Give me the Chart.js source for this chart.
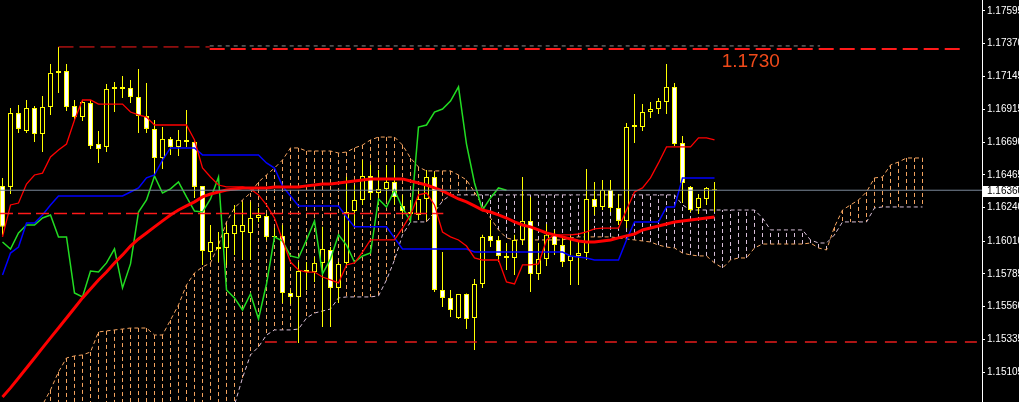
<!DOCTYPE html>
<html>
<head>
<meta charset="utf-8">
<script src="https://cdn.jsdelivr.net/npm/chart.js@4.4.1/dist/chart.umd.min.js"></script>
<style>
  html, body { margin: 0; padding: 0; background: #000; }
  canvas { display: block; background: #000; }
</style>
</head>
<body>
<canvas id="myChart" width="1019" height="402"></canvas>
<script>
// EURUSD candles, one per bar (index 0 = leftmost bar)
var opens = [
  1.16390, 1.16383, 1.16891, 1.16768, 1.16926, 1.16747, 1.16933, 1.17167, 1.17180, 1.16940,
  1.16864, 1.16960, 1.16678, 1.16658, 1.17057, 1.17071, 1.17064, 1.17002, 1.16871, 1.16782,
  1.16582, 1.16713, 1.16658, 1.16706, 1.16692, 1.16390, 1.15935, 1.15969, 1.15963, 1.16059,
  1.16073, 1.16066, 1.16169, 1.16183, 1.16046, 1.16046, 1.15653, 1.15626, 1.15811, 1.15797,
  1.15860, 1.15949, 1.15688, 1.15860, 1.16217, 1.16293, 1.16458, 1.16341, 1.16369, 1.16417,
  1.16252, 1.16197, 1.16190, 1.16300, 1.16451, 1.15674, 1.15619, 1.15481, 1.15646, 1.15481,
  1.15715, 1.16046, 1.16018, 1.15908, 1.15894, 1.16018, 1.16149, 1.15784, 1.15887, 1.16053,
  1.15983, 1.15873, 1.15908, 1.15928, 1.16300, 1.16245, 1.16362, 1.16238, 1.16149, 1.16795,
  1.16795, 1.16898, 1.16919, 1.16967, 1.17071, 1.16685, 1.16383, 1.16238, 1.16300, 1.16366
];
var highs = [
  1.16445, 1.16926, 1.16947, 1.16981, 1.16940, 1.17008, 1.17229, 1.17346, 1.17229, 1.16981,
  1.16981, 1.16981, 1.16768, 1.17091, 1.17105, 1.17146, 1.17119, 1.17194, 1.17098, 1.16843,
  1.16795, 1.16726, 1.16775, 1.16912, 1.16699, 1.16390, 1.16121, 1.16073, 1.16121, 1.16259,
  1.16280, 1.16280, 1.16238, 1.16197, 1.16100, 1.16121, 1.15674, 1.15866, 1.15866, 1.15901,
  1.16108, 1.15969, 1.15866, 1.16451, 1.16396, 1.16568, 1.16534, 1.16499, 1.16534, 1.16534,
  1.16328, 1.16293, 1.16362, 1.16499, 1.16485, 1.15935, 1.15674, 1.15646, 1.15650, 1.15749,
  1.16053, 1.16155, 1.16046, 1.15997, 1.16053, 1.16451, 1.16314, 1.15997, 1.16128, 1.16087,
  1.16032, 1.16046, 1.16004, 1.16506, 1.16417, 1.16431, 1.16431, 1.16334, 1.16823, 1.17022,
  1.16953, 1.16967, 1.16995, 1.17229, 1.17098, 1.16733, 1.16390, 1.16334, 1.16383, 1.16417
];
var lows = [
  1.16053, 1.16334, 1.16754, 1.16754, 1.16692, 1.16623, 1.16878, 1.17029, 1.16905, 1.16836,
  1.16836, 1.16644, 1.16548, 1.16623, 1.16898, 1.16995, 1.16960, 1.16754, 1.16754, 1.16451,
  1.16506, 1.16603, 1.16596, 1.16658, 1.16307, 1.15846, 1.15880, 1.15866, 1.15846, 1.15915,
  1.15880, 1.15880, 1.16142, 1.16018, 1.16018, 1.15584, 1.15577, 1.15309, 1.15674, 1.15729,
  1.15419, 1.15419, 1.15584, 1.15846, 1.16121, 1.16259, 1.16293, 1.16259, 1.16293, 1.16259,
  1.16190, 1.16169, 1.16155, 1.16155, 1.15660, 1.15557, 1.15488, 1.15474, 1.15405, 1.15261,
  1.15688, 1.15969, 1.15866, 1.15811, 1.15777, 1.15983, 1.15660, 1.15743, 1.15839, 1.15915,
  1.15832, 1.15708, 1.15708, 1.15880, 1.16190, 1.16224, 1.16210, 1.16121, 1.16100, 1.16685,
  1.16768, 1.16857, 1.16885, 1.16885, 1.16665, 1.16272, 1.16210, 1.16197, 1.16259, 1.16210
];
var closes = [
  1.16108, 1.16891, 1.16782, 1.16926, 1.16747, 1.16933, 1.17167, 1.17180, 1.16933, 1.16864,
  1.16967, 1.16665, 1.16644, 1.17057, 1.17071, 1.17057, 1.17002, 1.16871, 1.16782, 1.16582,
  1.16713, 1.16658, 1.16706, 1.16692, 1.16383, 1.15942, 1.16004, 1.15956, 1.16066, 1.16121,
  1.16121, 1.16169, 1.16190, 1.16039, 1.16039, 1.15653, 1.15626, 1.15804, 1.15797, 1.15860,
  1.15956, 1.15688, 1.15853, 1.16210, 1.16293, 1.16458, 1.16341, 1.16369, 1.16417, 1.16314,
  1.16217, 1.16210, 1.16300, 1.16451, 1.15674, 1.15619, 1.15536, 1.15646, 1.15474, 1.15715,
  1.16039, 1.16011, 1.15908, 1.15894, 1.16018, 1.16149, 1.15784, 1.15887, 1.16053, 1.15983,
  1.15866, 1.15908, 1.15928, 1.16300, 1.16245, 1.16362, 1.16238, 1.16149, 1.16795, 1.16809,
  1.16898, 1.16919, 1.16974, 1.17071, 1.16678, 1.16410, 1.16224, 1.16307, 1.16376, 1.16360
];

// moving average (thick red)
var maLine = [
  1.14938, 1.15000, 1.15068, 1.15137, 1.15206, 1.15275, 1.15344, 1.15412, 1.15481, 1.15550,
  1.15619, 1.15681, 1.15743, 1.15797, 1.15860, 1.15915, 1.15976, 1.16025, 1.16066, 1.16108,
  1.16149, 1.16190, 1.16224, 1.16252, 1.16280, 1.16314, 1.16334, 1.16348, 1.16362, 1.16369,
  1.16376, 1.16376, 1.16376, 1.16376, 1.16383, 1.16383, 1.16383, 1.16383, 1.16390, 1.16396,
  1.16403, 1.16403, 1.16410, 1.16417, 1.16424, 1.16431, 1.16438, 1.16438, 1.16438, 1.16438,
  1.16438, 1.16424, 1.16410, 1.16396, 1.16376, 1.16355, 1.16328, 1.16300, 1.16280, 1.16252,
  1.16224, 1.16210, 1.16190, 1.16169, 1.16142, 1.16121, 1.16108, 1.16087, 1.16066, 1.16053,
  1.16039, 1.16025, 1.16011, 1.16004, 1.16004, 1.16011, 1.16018, 1.16032, 1.16046, 1.16059,
  1.16087, 1.16100, 1.16114, 1.16128, 1.16142, 1.16149, 1.16155, 1.16162, 1.16169, 1.16176
];

// ichimoku
var tenkan = [
  1.16039, 1.16259, 1.16272, 1.16403, 1.16465, 1.16478, 1.16589, 1.16637, 1.16678, 1.16843,
  1.16981, 1.16981, 1.16953, 1.16953, 1.16953, 1.16953, 1.16898, 1.16878, 1.16864, 1.16809,
  1.16809, 1.16809, 1.16809, 1.16809, 1.16706, 1.16513, 1.16451, 1.16396, 1.16383, 1.16383,
  1.16383, 1.16369, 1.16328, 1.16259, 1.16169, 1.16018, 1.15866, 1.15811, 1.15797, 1.15797,
  1.15763, 1.15743, 1.15722, 1.15846, 1.15860, 1.15935, 1.16018, 1.16018, 1.16018, 1.16018,
  1.16100, 1.16190, 1.16328, 1.16341, 1.16259, 1.16073, 1.16039, 1.16018, 1.15976, 1.15894,
  1.15880, 1.15880, 1.15880, 1.15729, 1.15715, 1.15846, 1.15846, 1.15853, 1.16018, 1.16053,
  1.16053, 1.16053, 1.16059, 1.16073, 1.16094, 1.16100, 1.16100, 1.16100, 1.16224, 1.16348,
  1.16376, 1.16445, 1.16548, 1.16658, 1.16658, 1.16658, 1.16658, 1.16720, 1.16720, 1.16706
];
var kijun = [
  1.15777, 1.15928, 1.15969, 1.16134, 1.16134, 1.16190, 1.16259, 1.16321, 1.16321, 1.16321,
  1.16321, 1.16321, 1.16321, 1.16321, 1.16321, 1.16321, 1.16348, 1.16376, 1.16445, 1.16465,
  1.16568, 1.16651, 1.16651, 1.16651, 1.16651, 1.16603, 1.16603, 1.16603, 1.16603, 1.16603,
  1.16603, 1.16603, 1.16603, 1.16548, 1.16513, 1.16389, 1.16321, 1.16252, 1.16252, 1.16252,
  1.16252, 1.16252, 1.16252, 1.16176, 1.16108, 1.16108, 1.16108, 1.16108, 1.16108, 1.16032,
  1.15956, 1.15956, 1.15956, 1.15956, 1.15956, 1.15956, 1.15956, 1.15956, 1.15956, 1.15935,
  1.15935, 1.15935, 1.15935, 1.15935, 1.15935, 1.15935, 1.15935, 1.15935, 1.15935, 1.15935,
  1.15935, 1.15908, 1.15901, 1.15894, 1.15880, 1.15880, 1.15880, 1.15880, 1.16018, 1.16142,
  1.16142, 1.16142, 1.16142, 1.16245, 1.16245, 1.16445, 1.16445, 1.16445, 1.16445, 1.16445
];
var chikouShift = 26;
// senkou spans, already shifted 26 bars ahead (116 positions)
var spanA = [
  1.14573, 1.14642, 1.14711, 1.14779, 1.14848, 1.14883, 1.14986, 1.15110, 1.15206, 1.15220,
  1.15227, 1.15247, 1.15385, 1.15392, 1.15399, 1.15405, 1.15412, 1.15412, 1.15412, 1.15364,
  1.15364, 1.15467, 1.15571, 1.15708, 1.15791, 1.15832, 1.15860, 1.15983, 1.16142, 1.16238,
  1.16293, 1.16341, 1.16417, 1.16465, 1.16513, 1.16568, 1.16651, 1.16651, 1.16630, 1.16630,
  1.16630, 1.16630, 1.16616, 1.16623, 1.16651, 1.16671, 1.16706, 1.16726, 1.16726, 1.16726,
  1.16671, 1.16582, 1.16520, 1.16493, 1.16493, 1.16493, 1.16493, 1.16465, 1.16431, 1.16348,
  1.16252, 1.16169, 1.16087, 1.16032, 1.16018, 1.16018, 1.16018, 1.16018, 1.16018, 1.16018,
  1.16018, 1.16032, 1.16039, 1.16039, 1.16039, 1.16039, 1.16039, 1.16032, 1.16025, 1.16018,
  1.16011, 1.16004, 1.15983, 1.15969, 1.15963, 1.15928, 1.15915, 1.15908, 1.15908, 1.15860,
  1.15825, 1.15880, 1.15894, 1.15894, 1.15963, 1.15990, 1.15990, 1.15990, 1.15990, 1.15990,
  1.15990, 1.15997, 1.15963, 1.15949, 1.16108, 1.16224, 1.16259, 1.16293, 1.16348, 1.16445,
  1.16451, 1.16534, 1.16554, 1.16582, 1.16582, 1.16582
];
var spanB = [
  1.14711, 1.14711, 1.14711, 1.14711, 1.14711, 1.14711, 1.14711, 1.14711, 1.14711, 1.14711,
  1.14711, 1.14711, 1.14711, 1.14711, 1.14711, 1.14711, 1.14711, 1.14711, 1.14711, 1.14711,
  1.14711, 1.14711, 1.14711, 1.14711, 1.14711, 1.14711, 1.14711, 1.14711, 1.14711, 1.14883,
  1.15069, 1.15227, 1.15282, 1.15364, 1.15399, 1.15399, 1.15399, 1.15405, 1.15481, 1.15515,
  1.15529, 1.15543, 1.15619, 1.15626, 1.15626, 1.15626, 1.15626, 1.15633, 1.15743, 1.15880,
  1.16053, 1.16142, 1.16142, 1.16142, 1.16210, 1.16286, 1.16328, 1.16328, 1.16328, 1.16328,
  1.16328, 1.16328, 1.16328, 1.16328, 1.16328, 1.16328, 1.16328, 1.16328, 1.16328, 1.16328,
  1.16328, 1.16328, 1.16328, 1.16328, 1.16328, 1.16328, 1.16328, 1.16328, 1.16328, 1.16328,
  1.16328, 1.16328, 1.16328, 1.16328, 1.16328, 1.16259, 1.16224, 1.16224, 1.16224, 1.16224,
  1.16224, 1.16224, 1.16224, 1.16224, 1.16224, 1.16169, 1.16087, 1.16087, 1.16087, 1.16087,
  1.16087, 1.16018, 1.15997, 1.15997, 1.16053, 1.16142, 1.16142, 1.16142, 1.16142, 1.16238,
  1.16245, 1.16245, 1.16245, 1.16245, 1.16245, 1.16245
];

// price axis labels
var priceTicks = [1.17595, 1.17370, 1.17145, 1.16915, 1.16690, 1.16465, 1.16240,
                  1.16010, 1.15785, 1.15560, 1.15335, 1.15105];
var bidPrice = 1.16360;
// drawn levels: top gray, top red (thin part), top red (thick part), mid dashed, lower dashed
var levelPrices = [1.17353, 1.17346, 1.17332, 1.16200, 1.15316];
var levelText = "1.1730";

var bars = opens.map(function (o, i) { return i; });
var bodyColors = opens.map(function (o, i) { return closes[i] < o ? '#ffffff' : '#000000'; });

function pts(arr) {
  return arr.map(function (v, i) { return { x: i, y: v }; });
}

function hLine(ctx, xs, ys, from, to, price, color, width, dash) {
  var py = ys.getPixelForValue(price);
  ctx.beginPath();
  ctx.strokeStyle = color;
  ctx.lineWidth = width;
  ctx.setLineDash(dash);
  ctx.moveTo(xs.getPixelForValue(from), py);
  ctx.lineTo(xs.getPixelForValue(to), py);
  ctx.stroke();
}

const cloudPlugin = {
  id: 'cloud',
  beforeDatasetsDraw(chart) {
    const ctx = chart.ctx, area = chart.chartArea;
    const xs = chart.scales.x, ys = chart.scales.y;
    ctx.save();
    ctx.beginPath();
    ctx.rect(area.left, area.top, area.width, area.height);
    ctx.clip();
    ctx.lineWidth = 1;
    ctx.setLineDash([4, 3]);
    for (var i = 0; i < spanA.length; i++) {
      var px = xs.getPixelForValue(i);
      ctx.beginPath();
      ctx.strokeStyle = spanA[i] >= spanB[i] ? '#f4a460' : '#d8bfd8';
      ctx.moveTo(px, ys.getPixelForValue(spanA[i]));
      ctx.lineTo(px, ys.getPixelForValue(spanB[i]));
      ctx.stroke();
    }
    ctx.restore();
  },
  afterDatasetsDraw(chart) {
    const ctx = chart.ctx;
    const xs = chart.scales.x, ys = chart.scales.y;
    ctx.save();
    // bid line
    hLine(ctx, xs, ys, xs.min, xs.max, bidPrice, '#7a8899', 1, []);
    hLine(ctx, xs, ys, 25.9, 102.2, levelPrices[0], '#8c8c8c', 1, [4, 4]);
    hLine(ctx, xs, ys, 7, 25.9, levelPrices[1], '#ff1a1a', 1, [15, 6]);
    hLine(ctx, xs, ys, 25.9, 120.3, levelPrices[2], '#ff1a1a', 2, [15, 6]);
    hLine(ctx, xs, ys, xs.min, 55.1, levelPrices[3], '#ff1a1a', 1.5, [13, 5]);
    hLine(ctx, xs, ys, 32.8, 122.2, levelPrices[4], '#e81c1c', 1.5, [12, 8]);
    ctx.setLineDash([]);
    ctx.fillStyle = '#f04a1a';
    ctx.font = '19px "Liberation Sans", Arial, sans-serif';
    ctx.textAlign = 'left';
    ctx.textBaseline = 'middle';
    ctx.fillText(levelText, xs.getPixelForValue(89.9), ys.getPixelForValue(1.17242));
    ctx.restore();
  },
  afterDraw(chart) {
    const ctx = chart.ctx, area = chart.chartArea;
    const ys = chart.scales.y;
    var py = Math.round(ys.getPixelForValue(bidPrice));
    ctx.save();
    ctx.fillStyle = '#ffffff';
    ctx.fillRect(area.right + 1, py - 4, 40, 11);
    ctx.fillStyle = '#000000';
    ctx.font = '10px "Liberation Sans", Arial, sans-serif';
    ctx.textAlign = 'left';
    ctx.textBaseline = 'middle';
    ctx.fillText(bidPrice.toFixed(5), area.right + 5, py + 1.5);
    ctx.restore();
  }
};

const config = {
  type: 'bar',
  data: {
    datasets: [
      {
        type: 'line', label: 'Senkou A', data: pts(spanA),
        borderColor: '#f4a460', borderWidth: 1, borderDash: [4, 3],
        pointRadius: 0, tension: 0, order: 20
      },
      {
        type: 'line', label: 'Senkou B', data: pts(spanB),
        borderColor: '#d8bfd8', borderWidth: 1, borderDash: [4, 3],
        pointRadius: 0, tension: 0, order: 19
      },
      {
        type: 'bar', label: 'wick',
        data: bars.map(function (i) { return { x: i, y: [lows[i], highs[i]] }; }),
        backgroundColor: '#ffff00', borderWidth: 0, barThickness: 1,
        grouped: false, inflateAmount: 0, order: 9
      },
      {
        type: 'bar', label: 'body',
        data: bars.map(function (i) { return { x: i, y: [opens[i], closes[i]] }; }),
        backgroundColor: bodyColors, borderColor: '#ffff00', borderWidth: 1,
        borderSkipped: false, barThickness: 5, minBarLength: 1,
        grouped: false, inflateAmount: 0, order: 8
      },
      {
        type: 'line', label: 'Chikou',
        data: closes.slice(chikouShift).map(function (c, i) { return { x: i, y: c }; }),
        borderColor: '#22dd22', borderWidth: 1.5, pointRadius: 0, tension: 0, order: 4
      },
      {
        type: 'line', label: 'Kijun', data: pts(kijun),
        borderColor: '#0000ff', borderWidth: 1.5, pointRadius: 0, tension: 0, order: 3
      },
      {
        type: 'line', label: 'Tenkan', data: pts(tenkan),
        borderColor: '#ff0000', borderWidth: 1.3, pointRadius: 0, tension: 0, order: 2
      },
      {
        type: 'line', label: 'MA', data: pts(maLine),
        borderColor: '#ff0000', borderWidth: 3, pointRadius: 0, tension: 0, order: 1
      }
    ]
  },
  options: {
    responsive: false,
    animation: false,
    devicePixelRatio: 1,
    layout: { padding: 0 },
    events: [],
    plugins: {
      legend: { display: false },
      tooltip: { enabled: false }
    },
    scales: {
      x: {
        type: 'linear',
        display: false,
        offset: false,
        bounds: 'data',
        min: -0.3125,
        max: 122.4375
      },
      y: {
        type: 'linear',
        position: 'right',
        bounds: 'data',
        min: 1.14903,
        max: 1.17669,
        afterBuildTicks: function (scale) {
          scale.ticks = priceTicks.map(function (v) { return { value: v }; });
        },
        afterFit: function (scale) {
          scale.width = 37;
          scale.paddingTop = 0;
          scale.paddingBottom = 0;
        },
        grid: {
          drawOnChartArea: false,
          drawTicks: true,
          tickLength: 3,
          color: '#ffffff'
        },
        border: { display: true, color: '#ffffff', width: 1 },
        ticks: {
          autoSkip: false,
          padding: 2,
          color: '#ffffff',
          font: { family: 'Liberation Sans', size: 10 },
          callback: function (v) { return Number(v).toFixed(5); }
        }
      }
    }
  },
  plugins: [cloudPlugin]
};

const myChart = new Chart(document.getElementById('myChart'), config);
</script>
</body>
</html>
